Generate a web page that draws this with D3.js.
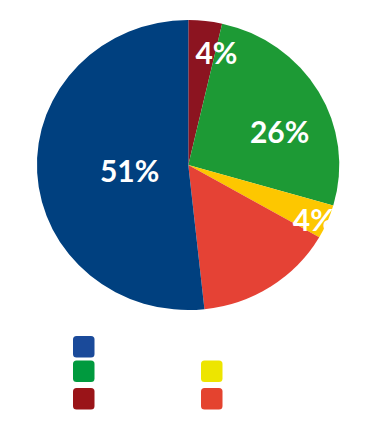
<!DOCTYPE html>
<html><head><meta charset="utf-8">
<script src="https://cdn.jsdelivr.net/npm/d3@7"></script>
<style>html,body{margin:0;padding:0;background:#fff;}svg{display:block;}</style>
</head><body>
<div id="chart"></div>
<script>
// Data (clockwise from 12 o'clock)
const categories = ["A", "B", "C", "D", "E"];
const values = [3.6, 25.9, 3.8, 15.0, 51.7];
const labels = ["4%", "26%", "4%", "", "51%"];
const sliceColors = ["#8C1420", "#1D9A35", "#FDC700", "#E54235", "#00407F"];
const legendColors = ["#9A1418", "#009A3E", "#EDE500", "#E4432F", "#1A4A9A"];
// legend grid slot (col,row) per category
const legendCol = [0, 0, 1, 1, 0];
const legendRow = [2, 1, 1, 2, 0];
// label placement tweaks (angle offset in degrees, radius fraction)
const labelAngleOffset = [7, 9, 1, 0, -1.5];
const labelRadius = [0.80, 0.65, 0.91, 0.6, 0.39];

const W = 380, H = 429;
const cx = 188.3, cy = 165, rx = 151, ry = 145;

const svg = d3.select("#chart").append("svg").attr("width", W).attr("height", H);
svg.append("rect").attr("width", W).attr("height", H).attr("fill", "#fff");

const data = categories.map((c, i) => ({c, v: values[i], i}));
const pie = d3.pie().value(d => d.v).sort(null).startAngle(0).endAngle(2 * Math.PI);
const arcs = pie(data);
const arc = d3.arc().innerRadius(0).outerRadius(1);

const g = svg.append("g").attr("transform", `translate(${cx},${cy}) scale(${rx},${ry})`);
g.selectAll("path").data(arcs).join("path")
  .attr("d", arc)
  .attr("fill", d => sliceColors[d.data.i]);

const lg = svg.append("g").attr("transform", `translate(${cx},${cy})`);
lg.selectAll("text").data(arcs.filter(d => labels[d.data.i])).join("text")
  .attr("x", d => {
    const a = (d.startAngle + d.endAngle) / 2 + labelAngleOffset[d.data.i] * Math.PI / 180;
    return Math.sin(a) * labelRadius[d.data.i] * rx;
  })
  .attr("y", d => {
    const a = (d.startAngle + d.endAngle) / 2 + labelAngleOffset[d.data.i] * Math.PI / 180;
    return -Math.cos(a) * labelRadius[d.data.i] * ry;
  })
  .attr("text-anchor", "middle")
  .attr("dominant-baseline", "central")
  .attr("fill", "#fff")
  .attr("font-family", "Lato, 'Open Sans', sans-serif")
  .attr("font-weight", 700)
  .attr("font-size", 30)
  .text(d => labels[d.data.i]);

// Legend
const colX = d3.scaleOrdinal().domain([0, 1]).range([73, 201]);
const rowY = d3.scaleOrdinal().domain([0, 1, 2]).range([336, 360.5, 388]);
svg.append("g").selectAll("rect").data(data).join("rect")
  .attr("x", d => colX(legendCol[d.i]))
  .attr("y", d => rowY(legendRow[d.i]))
  .attr("width", 21.5).attr("height", 21.5)
  .attr("rx", 3.5).attr("ry", 3.5)
  .attr("fill", d => legendColors[d.i]);
</script>
</body></html>
